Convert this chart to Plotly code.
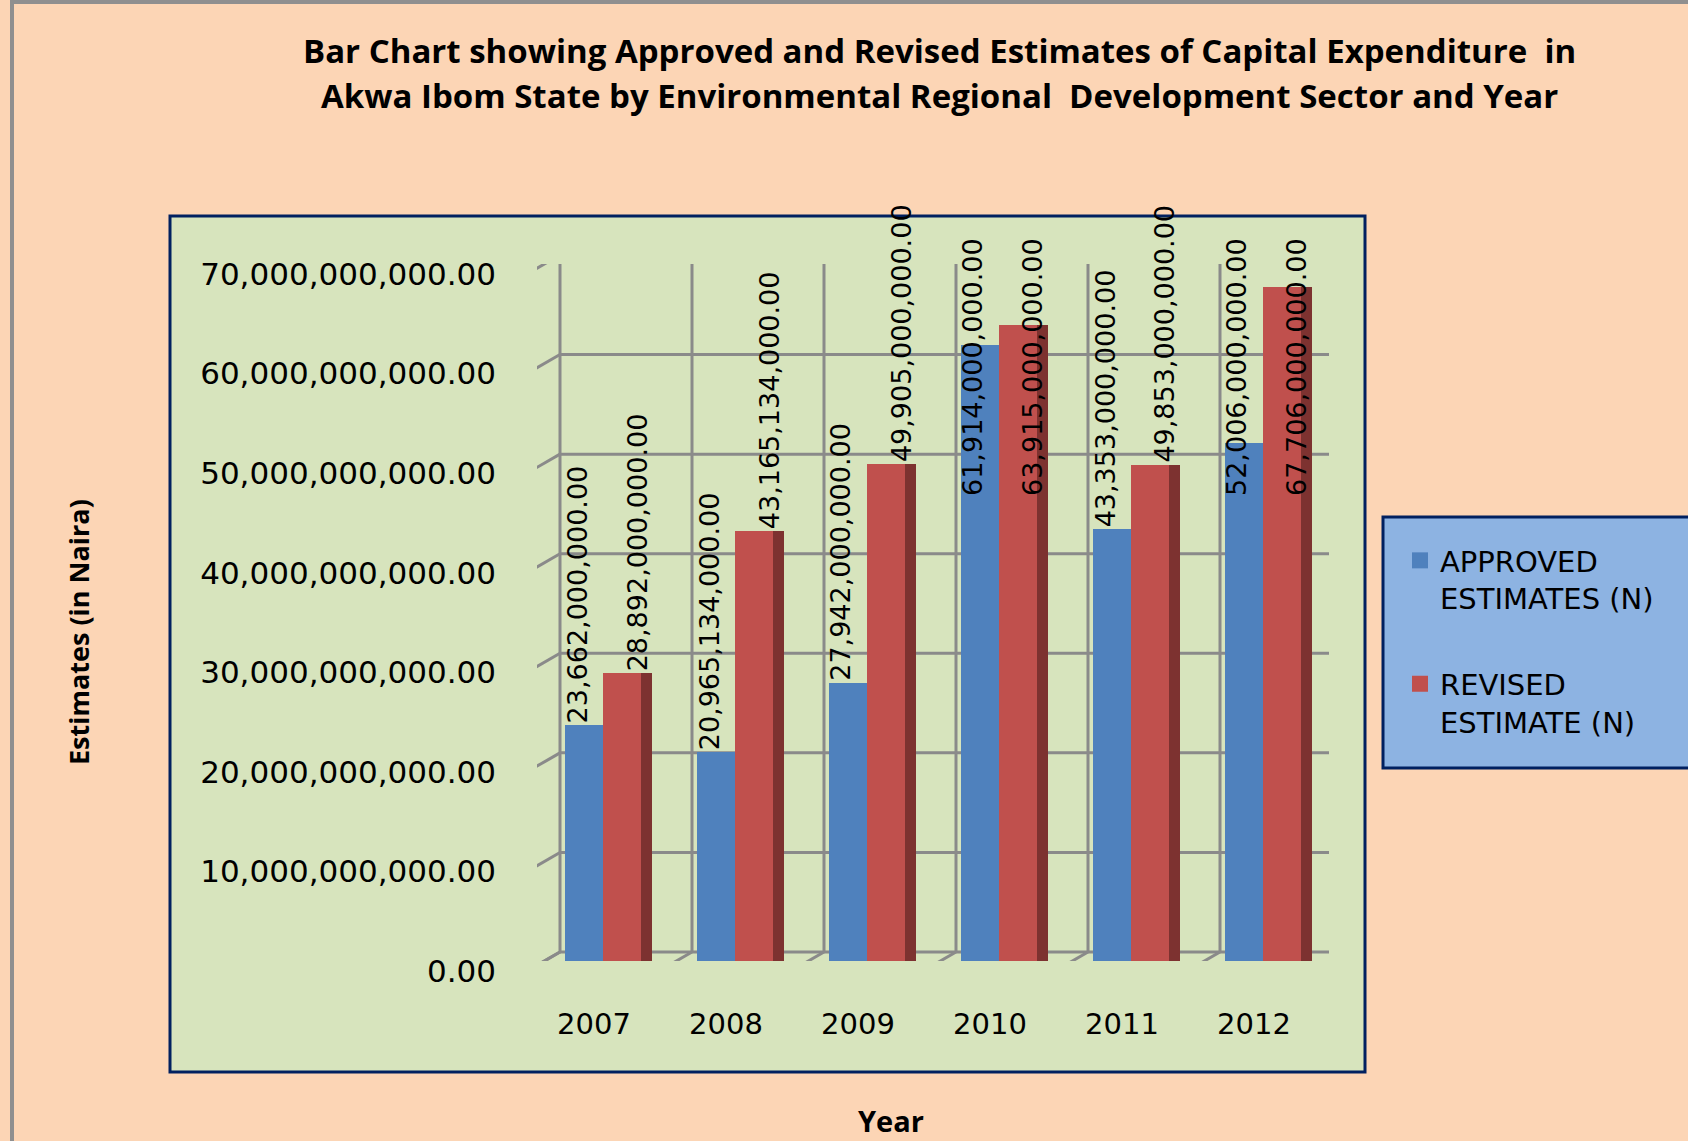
import plotly.graph_objects as go

# ---------------- data ----------------
years = ["2007", "2008", "2009", "2010", "2011", "2012"]
approved = [23662000000, 20965134000, 27942000000, 61914000000, 43353000000, 52006000000]
revised = [28892000000, 43165134000, 49905000000, 63915000000, 49853000000, 67706000000]
y_ticks = [0, 10e9, 20e9, 30e9, 40e9, 50e9, 60e9, 70e9]
series_names = ["APPROVED<br>ESTIMATES (N)", "REVISED<br>ESTIMATE (N)"]
title_lines = [
    "Bar Chart showing Approved and Revised Estimates of Capital Expenditure  in",
    "Akwa Ibom State by Environmental Regional  Development Sector and Year",
]
y_title = "Estimates (in Naira)"
x_title = "Year"

# ---------------- geometry / style ----------------
W, H = 1688, 1141
L, R, T, B = 537, 1329, 264, 961  # plot area in px
PW, PH = R - L, B - T


def px(x):
    return (x - L) / PW


def py(y):
    return (B - y) / PH


BLUE = "#4F81BD"
RED = "#C0504D"
RED_SIDE = "#7D3230"
GRID = "#8A8A8A"
NAVY = "#002060"
PEACH = "#FCD5B5"
GREEN = "#D7E4BD"
LEGBG = "#8DB3E2"
TITLE_FONT = "Open Sans"
# 3-D look: back wall offset and front (axis) offset, in px
BX, BY = 23, 9      # back wall: right / up
FX, FY = -10, -10   # front edge: left / down
LABEL_FIT = 50.5e9  # labels above this value are pulled down inside the chart
LABEL_LOW = 46.5e9

fig = go.Figure()
fig.add_bar(x=years, y=approved, name=series_names[0], marker=dict(color=BLUE, line=dict(width=0)),
            offset=-0.29, width=0.29, showlegend=False)
fig.add_bar(x=years, y=revised, name=series_names[1], marker=dict(color=RED, line=dict(width=0)),
            offset=0.0, width=0.29, showlegend=False)
# darker side face of the red bars (3-D look)
fig.add_bar(x=years, y=revised, marker=dict(color=RED_SIDE, line=dict(width=0)),
            offset=0.29, width=0.08, showlegend=False, hoverinfo="skip")
# legend entries (larger square swatches)
for name, col, grp in ((series_names[0], BLUE, "a"), (series_names[1], RED, "r")):
    fig.add_scatter(x=[None], y=[None], mode="markers", name=name, legendgroup=grp,
                    marker=dict(symbol="square", size=18, color=col))

# data labels (vertical)
for i, yr in enumerate(years):
    for vals, shift in ((approved, -26), (revised, 34)):
        v = vals[i]
        ypos = v if v <= LABEL_FIT else LABEL_LOW
        fig.add_annotation(xref="x", yref="y", x=i, y=ypos, text=f"{v:,.2f}",
                           textangle=-90, xanchor="center", yanchor="bottom", xshift=shift,
                           showarrow=False,
                           font=dict(family="DejaVu Sans", size=27, color="black"))

# titles
for k, line in enumerate(title_lines):
    fig.add_annotation(xref="paper", yref="paper", x=px(939), y=py([51, 95][k]), text=line,
                       showarrow=False, xanchor="center", yanchor="middle",
                       font=dict(family=TITLE_FONT, size=33, weight=700, color="black"))
fig.add_annotation(xref="paper", yref="paper", x=px(78), y=py(632), text=y_title, textangle=-90,
                   showarrow=False, xanchor="center", yanchor="middle",
                   font=dict(family=TITLE_FONT, size=27, weight=700, color="black"))
fig.add_annotation(xref="paper", yref="paper", x=px(891), y=py(1120), text=x_title,
                   showarrow=False, xanchor="center", yanchor="middle",
                   font=dict(family=TITLE_FONT, size=29, weight=700, color="black"))

shapes = [
    dict(type="rect", xref="paper", yref="paper", x0=px(170), x1=px(1365), y0=py(1072), y1=py(216),
         fillcolor=GREEN, line=dict(color=NAVY, width=3), layer="below"),
    dict(type="rect", xref="paper", yref="paper", x0=px(1383), x1=px(1710), y0=py(768), y1=py(517),
         fillcolor=LEGBG, line=dict(color=NAVY, width=3), layer="below"),
    dict(type="line", xref="paper", yref="paper", x0=px(12), x1=px(12), y0=py(0), y1=py(H),
         line=dict(color="#8F8F8F", width=4), layer="below"),
    dict(type="line", xref="paper", yref="paper", x0=px(10), x1=px(W), y0=py(2), y1=py(2),
         line=dict(color="#8F8F8F", width=4), layer="below"),
]


def pix_line(xa, x0, x1, ya, y0, y1, width=3):
    return dict(type="line", xref="x", yref="y", xsizemode="pixel", ysizemode="pixel",
                xanchor=xa, yanchor=ya, x0=x0, x1=x1, y0=y0, y1=y1,
                line=dict(color=GRID, width=width), layer="below")


n = len(years)
# back-wall horizontal gridlines, left-wall diagonals and front tick marks
for t in y_ticks:
    shapes.append(pix_line(-0.5, BX, BX + PW, t, BY, BY))
    shapes.append(pix_line(-0.5, FX, BX, t, FY, BY))
    shapes.append(pix_line(-0.5, FX - 8, FX, t, FY, FY, width=2))
# back-wall vertical gridlines and floor diagonals
for k in range(n + 1):
    shapes.append(pix_line(k - 0.5, BX, BX, 0, BY, BY + PH))
    shapes.append(pix_line(k - 0.5, FX, BX, 0, FY, BY))
# front axis and front floor edge
shapes.append(pix_line(-0.5, FX, FX, 0, FY, FY + PH))
shapes.append(pix_line(-0.5, FX, FX + PW, 0, FY, FY))

fig.update_layout(
    width=W, height=H,
    margin=dict(l=L, r=W - R, t=T, b=H - B, pad=0, autoexpand=False),
    paper_bgcolor=PEACH, plot_bgcolor="rgba(0,0,0,0)",
    barmode="overlay", bargap=0,
    font=dict(family="DejaVu Sans", size=29, color="black"),
    shapes=shapes,
    xaxis=dict(type="category", range=[-0.5, 5.5], showgrid=False, ticks="",
               ticklabelstandoff=43, ticklabelshift=-9, showline=False, zeroline=False,
               tickfont=dict(family="DejaVu Sans", size=29, color="black")),
    yaxis=dict(range=[0, 70e9], tickvals=y_ticks, tickformat=",.2f", showgrid=False,
               ticks="", ticklabelstandoff=40, ticklabelshift=10, showline=False,
               zeroline=False, tickfont=dict(family="DejaVu Sans", size=31, color="black")),
    legend=dict(x=px(1400), y=py(535), xanchor="left", yanchor="top", bgcolor="rgba(0,0,0,0)",
                borderwidth=0, font=dict(family="DejaVu Sans", size=29, color="black"),
                tracegroupgap=45, valign="top", traceorder="grouped", itemsizing="trace"),
    showlegend=True,
)

fig.write_html("out.html", config={"displayModeBar": False},
               post_script="document.body.style.margin='0';document.body.style.overflow='hidden';")
